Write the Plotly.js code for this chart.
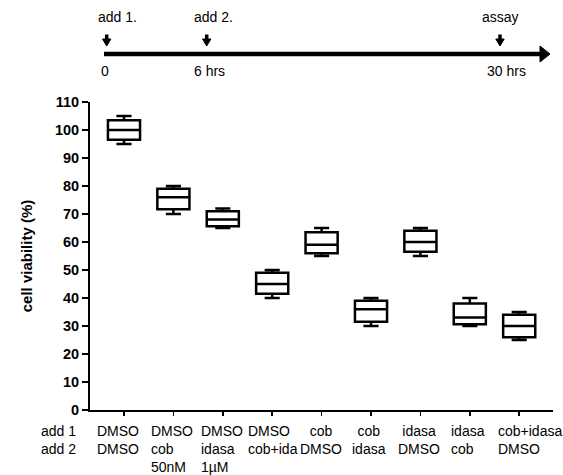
<!DOCTYPE html>
<html>
<head>
<meta charset="utf-8">
<script src="https://cdn.plot.ly/plotly-3.0.1.min.js"></script>
<style>html,body{margin:0;padding:0;background:#fff;}#chart{width:563px;height:475px;}</style>
</head>
<body>
<div id="chart"></div>
<script>
// ---- data ----
var add1 = ["DMSO", "DMSO", "DMSO", "DMSO", "cob", "cob", "idasa", "idasa", "cob+idasa"];
var add2 = ["DMSO", "cob", "idasa", "cob+ida", "DMSO", "idasa", "DMSO", "cob", "DMSO"];
var conc = ["", "50nM", "1\u00b5M", "", "", "", "", "", ""];
var lowerWhisker = [95, 70, 65, 40, 55, 30, 55, 30, 25];
var q1Values     = [96.5, 71.7, 65.6, 41.5, 56, 31.5, 56.5, 30.6, 26];
var medianValues = [100, 76, 68, 45, 59, 36, 60, 33, 30];
var q3Values     = [103.5, 79, 71, 49, 63.5, 39, 64, 38, 34];
var upperWhisker = [105, 80, 72, 50, 65, 40, 65, 40, 35];
var yTicks = [0, 10, 20, 30, 40, 50, 60, 70, 80, 90, 100, 110];
var timelineEvents = ["add 1.", "add 2.", "assay"];
var timelineTimes = ["0", "6 hrs", "30 hrs"];
var rowNames = ["add 1", "add 2"];

// ---- label styling (alignment and pixel offset of each column's label block) ----
var labelAlign = ["center", "left", "left", "left", "center", "center", "center", "left", "left"];
var labelShift = [-6, -24, -24, -26, -1, -2.5, -1, -21, -23];

// ---- build ----
var cats = add1.map(function (a, i) { return a + " / " + add2[i] + (conc[i] ? " " + conc[i] : ""); });
var labelText = add1.map(function (a, i) {
  return a + "<br>" + add2[i] + (conc[i] ? "<br>" + conc[i] : "");
});

var FONT = 'Arial, "Liberation Sans", sans-serif';
var L = 90, T = 102, W = 463, H = 308;
function px2x(px) { return (px - L) / W; }
function px2y(py) { return (T + H - py) / H; }

var trace = {
  type: "box",
  x: cats,
  q1: q1Values,
  median: medianValues,
  q3: q3Values,
  lowerfence: lowerWhisker,
  upperfence: upperWhisker,
  boxpoints: false,
  width: 0.65,
  whiskerwidth: 0.47,
  fillcolor: "rgba(255,255,255,1)",
  line: { color: "#000", width: 2.5 },
  hoverinfo: "skip",
  showlegend: false
};

var annotations = [];
// category labels under the x axis
labelText.forEach(function (t, i) {
  annotations.push({ xref: "x", yref: "paper", x: i, y: 0, text: t,
    xanchor: labelAlign[i] === "left" ? "left" : "center", align: labelAlign[i],
    yanchor: "top", xshift: labelShift[i], yshift: -11, showarrow: false,
    font: { family: FONT, size: 14, color: "#000" } });
});
// row labels
annotations.push({ xref: "paper", yref: "paper", x: px2x(39), y: 0, text: rowNames.join("<br>"),
  showarrow: false, xanchor: "left", align: "left", yanchor: "top", yshift: -11,
  font: { family: FONT, size: 14, color: "#000" } });
// timeline labels
var evX = [117, 213, 500];
var tX = [105, 209, 506];
var arrowX = [106.7, 206.7, 500];
for (var i = 0; i < 3; i++) {
  annotations.push({ xref: "paper", yref: "paper", x: px2x(evX[i]), y: px2y(17), text: timelineEvents[i],
    showarrow: false, xanchor: "center", yanchor: "middle", font: { family: FONT, size: 14, color: "#000" } });
  annotations.push({ xref: "paper", yref: "paper", x: px2x(tX[i]), y: px2y(71), text: timelineTimes[i],
    showarrow: false, xanchor: "center", yanchor: "middle", font: { family: FONT, size: 14, color: "#000" } });
}

var shapes = [];
// main timeline
shapes.push({ type: "line", xref: "paper", yref: "paper", x0: px2x(104), x1: px2x(542), y0: px2y(54), y1: px2y(54),
  line: { color: "#000", width: 4.5 } });
shapes.push({ type: "path", xref: "paper", yref: "paper",
  path: "M" + px2x(540) + "," + px2y(46) + " L" + px2x(550) + "," + px2y(54) + " L" + px2x(540) + "," + px2y(62) + " Z",
  fillcolor: "#000", line: { color: "#000", width: 1 } });
// down arrows
arrowX.forEach(function (ax) {
  shapes.push({ type: "line", xref: "paper", yref: "paper", x0: px2x(ax), x1: px2x(ax), y0: px2y(34.5), y1: px2y(41),
    line: { color: "#000", width: 3.5 } });
  shapes.push({ type: "path", xref: "paper", yref: "paper",
    path: "M" + px2x(ax - 4.2) + "," + px2y(39) + " L" + px2x(ax + 4.2) + "," + px2y(39) + " L" + px2x(ax) + "," + px2y(46) + " Z",
    fillcolor: "#000", line: { color: "#000", width: 1 } });
});

var layout = {
  width: 563, height: 475,
  margin: { l: L, r: 10, t: T, b: 65, pad: 0 },
  paper_bgcolor: "#fff", plot_bgcolor: "#fff",
  font: { family: FONT, size: 14, color: "#000" },
  showlegend: false,
  xaxis: {
    type: "category",
    range: [-0.688, 8.684],
    showline: true, linecolor: "#000", linewidth: 2,
    ticks: "outside", ticklen: 4, tickwidth: 1.5, tickcolor: "#000",
    showgrid: false, zeroline: false,
    showticklabels: false,
    fixedrange: true
  },
  yaxis: {
    range: [0, 110],
    tickvals: yTicks,
    ticktext: yTicks.map(String),
    showline: true, linecolor: "#000", linewidth: 2,
    ticks: "outside", ticklen: 6, tickwidth: 1.5, tickcolor: "#000",
    showgrid: false, zeroline: false,
    tickfont: { family: FONT, size: 14.5, color: "#000", weight: "bold" },
    title: { text: "<b>cell viability (%)</b>", font: { family: FONT, size: 15, color: "#000" }, standoff: 19 },
    fixedrange: true
  },
  annotations: annotations,
  shapes: shapes
};

Plotly.newPlot("chart", [trace], layout, { displayModeBar: false, staticPlot: true });
</script>
</body>
</html>
